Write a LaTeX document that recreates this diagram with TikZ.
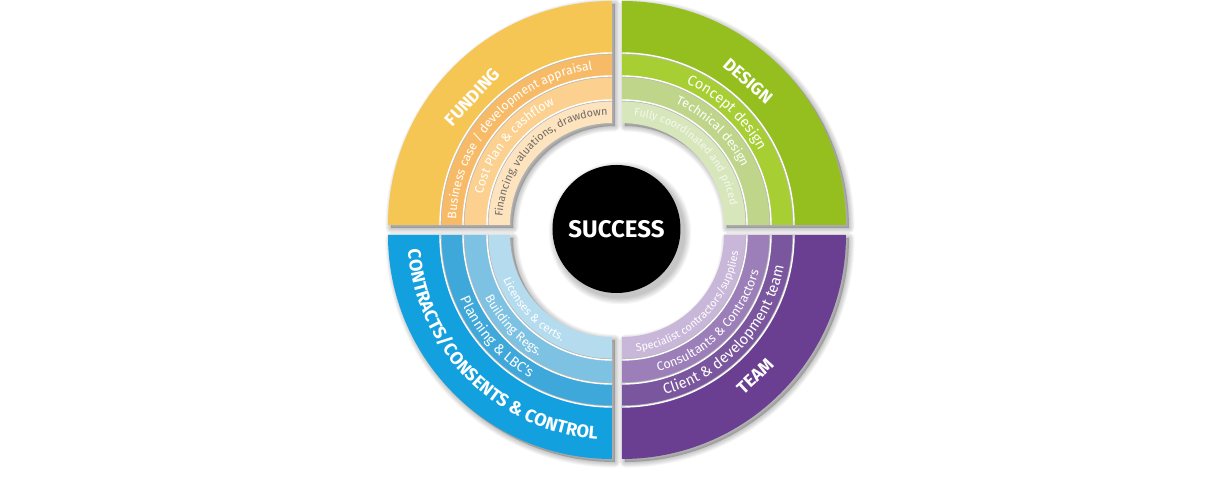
\documentclass[tikz,border=0pt]{standalone}
\usepackage{fontspec}
\setmainfont{Fira Sans}
\usetikzlibrary{decorations.text}
\definecolor{fA}{HTML}{F5C654}\definecolor{fB}{HTML}{F7BB68}\definecolor{fC}{HTML}{FCD18F}\definecolor{fD}{HTML}{FDE3BE}
\definecolor{dA}{HTML}{94BF1E}\definecolor{dB}{HTML}{A7CF33}\definecolor{dC}{HTML}{BFD68A}\definecolor{dD}{HTML}{D8E6BC}
\definecolor{cA}{HTML}{12A0DF}\definecolor{cB}{HTML}{3FA8DB}\definecolor{cC}{HTML}{7EC2E3}\definecolor{cD}{HTML}{B5DCEE}
\definecolor{tA}{HTML}{6A3F91}\definecolor{tB}{HTML}{7A569E}\definecolor{tC}{HTML}{9C7FB8}\definecolor{tD}{HTML}{C9B7D9}
\definecolor{txtgrey}{HTML}{6E6A66}
% cx cy a b rin rout colour
\newcommand\qband[7]{\fill[#7,shift={(#1pt,#2pt)}] (#3:#6pt) arc[start angle=#3,end angle=#4,radius=#6pt] -- (#4:#5pt) arc[start angle=#4,end angle=#3,radius=#5pt] -- cycle;}
% cx cy a b r
\newcommand\qsep[5]{\pgfmathsetmacro\qrr{#5-1}%
 \draw[black!28,line width=1pt,shift={(#1pt,#2pt)}] (#3:\qrr pt) arc[start angle=#3,end angle=#4,radius=\qrr pt];
 \draw[white,line width=1.4pt,shift={(#1pt,#2pt)}] (#3:#5pt) arc[start angle=#3,end angle=#4,radius=#5pt];}
% cx cy a b
\newcommand\qshadow[4]{\foreach \k in {1,...,7}{%
 \filldraw[black,opacity=0.03,line width=\k*1.6pt,line join=round,shift={(#1pt+3pt,#2pt-3pt)}] (#3:224pt) arc[start angle=#3,end angle=#4,radius=224pt] -- (#4:102pt) arc[start angle=#4,end angle=#3,radius=102pt] -- cycle;}}
% cx cy a b r format text
\newcommand\arctext[7]{\path[shift={(#1pt,#2pt)},decorate,decoration={text along path,text align=center,text={|#6|#7}}] (#3:#5pt) arc[start angle=#3,end angle=#4,radius=#5pt];}
\tikzset{title/.style={text=white,font=\fontsize{17.5}{19}\selectfont\bfseries,inner sep=0pt}}
\begin{document}
\begin{tikzpicture}
\useasboundingbox (-617pt,-264pt) rectangle (602pt,230pt);
\fill[white] (-617pt,-264pt) rectangle (602pt,230pt);
% shadows
\qshadow{-5}{5}{180}{90}
\qshadow{5}{5}{90}{0}
\qshadow{-5}{-5}{180}{270}
\qshadow{5}{-5}{270}{360}
% FUNDING
\qband{-5}{5}{180}{90}{172}{224}{fA}
\qband{-5}{5}{180}{90}{149}{172}{fB}
\qband{-5}{5}{180}{90}{125}{149}{fC}
\qband{-5}{5}{180}{90}{102}{125}{fD}
\qsep{-5}{5}{180}{90}{172}\qsep{-5}{5}{180}{90}{149}\qsep{-5}{5}{180}{90}{125}
% DESIGN
\qband{5}{5}{90}{0}{172}{224}{dA}
\qband{5}{5}{90}{0}{149}{172}{dB}
\qband{5}{5}{90}{0}{125}{149}{dC}
\qband{5}{5}{90}{0}{102}{125}{dD}
\qsep{5}{5}{90}{0}{172}\qsep{5}{5}{90}{0}{149}\qsep{5}{5}{90}{0}{125}
% CONTRACTS
\qband{-5}{-5}{180}{270}{172}{224}{cA}
\qband{-5}{-5}{180}{270}{149}{172}{cB}
\qband{-5}{-5}{180}{270}{125}{149}{cC}
\qband{-5}{-5}{180}{270}{102}{125}{cD}
\qsep{-5}{-5}{180}{270}{172}\qsep{-5}{-5}{180}{270}{149}\qsep{-5}{-5}{180}{270}{125}
% TEAM
\qband{5}{-5}{270}{360}{172}{224}{tA}
\qband{5}{-5}{270}{360}{149}{172}{tB}
\qband{5}{-5}{270}{360}{125}{149}{tC}
\qband{5}{-5}{270}{360}{102}{125}{tD}
\qsep{5}{-5}{270}{360}{172}\qsep{5}{-5}{270}{360}{149}\qsep{5}{-5}{270}{360}{125}
% curved texts
\arctext{-5}{5}{180}{95}{156}{\fontsize{12.3}{14}\selectfont\color{white}}{Business case / development appraisal}
\arctext{-5}{5}{169}{113}{133}{\fontsize{12.5}{14}\selectfont\color{white}}{Cost Plan {\&} cashflow}
\arctext{-5}{5}{179}{89}{110}{\fontsize{10.8}{12}\selectfont\color{txtgrey}}{Financing, valuations, drawdown}
\arctext{5}{5}{68}{26}{155.5}{\fontsize{14.5}{16}\selectfont\color{white}}{Concept design}
\arctext{5}{5}{69}{23}{133}{\fontsize{12.5}{14}\selectfont\color{white}}{Technical design}
\arctext{5}{5}{88}{6}{110}{\fontsize{10.8}{12}\selectfont\color{white!75!dD}}{Fully coordinated and priced}
\arctext{-5}{-5}{199}{244}{165}{\fontsize{14.2}{16}\selectfont\color{white}}{Planning {\&} LBC's}
\arctext{-5}{-5}{203}{242}{141.5}{\fontsize{12.6}{14}\selectfont\color{white}}{Building Regs.}
\arctext{-5}{-5}{199}{248}{117.5}{\fontsize{11.5}{13}\selectfont\color{white}}{Licenses {\&} certs.}
\arctext{-5}{-5}{181}{269}{204.5}{\fontsize{18}{20}\selectfont\bfseries\color{white}}{CONTRACTS/CONSENTS {\&} CONTROL}
\arctext{5}{-5}{282}{352}{165}{\fontsize{14.8}{16}\selectfont\color{white}}{Client {\&} development team}
\arctext{5}{-5}{282}{348}{141.5}{\fontsize{12.5}{14}\selectfont\color{white}}{Consultants {\&} Contractors}
\arctext{5}{-5}{272}{357}{117.5}{\fontsize{10.8}{12}\selectfont\color{white}}{Specialist contractors/supplies}
% titles
\node[title,rotate=47] (funding) at (-145pt,133pt) {FUNDING};
\node[title,rotate=-41] (design) at (131pt,149pt) {DESIGN};
\node[title,rotate=43] (team) at (138pt,-146pt) {TEAM};
% centre
\foreach \k in {1,...,6}{\fill[black,opacity=0.04] (3pt,-3pt) circle[radius=64pt+\k*1.2pt];}
\node[circle,fill=black,minimum size=128pt,inner sep=0pt,text=white,font=\fontsize{24}{28}\selectfont\bfseries] (success) at (-0.5pt,1pt) {SUCCESS};
\end{tikzpicture}
\end{document}
